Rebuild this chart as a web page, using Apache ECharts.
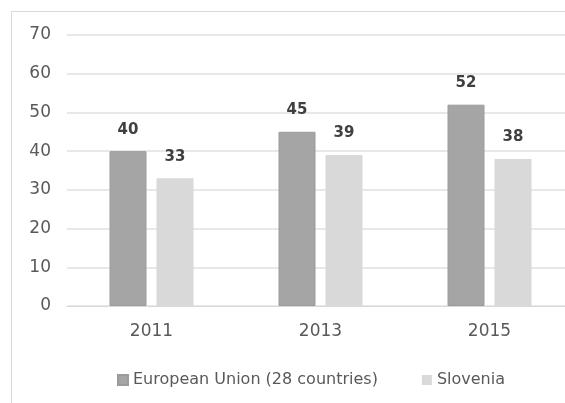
<!DOCTYPE html>
<html>
<head>
<meta charset="utf-8">
<script src="https://cdn.jsdelivr.net/npm/echarts@6/dist/echarts.min.js"></script>
<style>
  html, body { margin: 0; padding: 0; background: #fff; }
  #chart { width: 565px; height: 403px; }
</style>
</head>
<body>
<div id="chart"></div>
<script>
const years = ['2011', '2013', '2015']
const euValues = [40, 45, 52]
const sloveniaValues = [33, 39, 38]
const yTicks = [0, 10, 20, 30, 40, 50, 60, 70]

const font = 'DejaVu Sans'
const chart = echarts.init(document.getElementById('chart'))

const labelStyle = {
    show: true,
    position: 'top',
    distance: 14,
    color: '#404040',
    fontSize: 15,
    fontWeight: 'bold',
    fontFamily: font,
}

chart.setOption({
    animation: false,
    // frame of the original chart area
    graphic: [
        {
            type: 'rect',
            shape: { x: 11.5, y: 11.5, width: 700, height: 500 },
            style: { fill: 'none', stroke: '#d9d9d9', lineWidth: 1 },
            silent: true,
        },
    ],
    grid: { left: 67, width: 507, top: 35, bottom: 97, outerBoundsMode: 'none' },
    legend: {
        top: 367,
        left: 112,
        itemWidth: 10,
        itemHeight: 10,
        itemGap: 44,
        icon: 'rect',
        textStyle: { color: '#595959', fontSize: 16, fontFamily: font },
        data: ['European Union (28 countries)', 'Slovenia'],
    },
    xAxis: {
        type: 'category',
        data: years,
        axisLine: { lineStyle: { color: '#d9d9d9', width: 1 } },
        axisTick: { show: false },
        axisLabel: { color: '#595959', fontSize: 17, fontFamily: font, margin: 17 },
    },
    yAxis: {
        type: 'value',
        min: yTicks[0],
        max: yTicks[yTicks.length - 1],
        interval: 10,
        axisLine: { show: false },
        axisTick: { show: false },
        axisLabel: { color: '#595959', fontSize: 17, fontFamily: font, margin: 16 },
        splitLine: { lineStyle: { color: '#e8e8e8', width: 2 } },
    },
    series: [
        {
            name: 'European Union (28 countries)',
            type: 'bar',
            data: euValues,
            barWidth: 37,
            barGap: '27%',
            itemStyle: { color: '#a5a5a5', borderColor: '#9b9b9b', borderWidth: 1 },
            label: labelStyle,
        },
        {
            name: 'Slovenia',
            type: 'bar',
            data: sloveniaValues,
            barWidth: 37,
            itemStyle: { color: '#d9d9d9' },
            label: labelStyle,
        },
    ],
})
</script>
</body>
</html>
